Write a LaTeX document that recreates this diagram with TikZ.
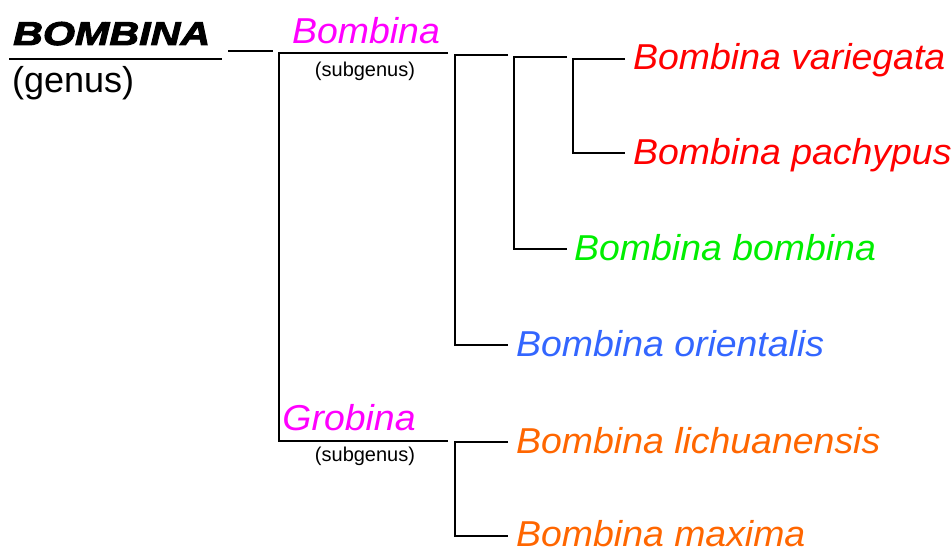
\documentclass[tikz,border=0pt]{standalone}
\usepackage{fontspec}
\setmainfont{Liberation Sans}
\newfontfamily\spfont{Liberation Sans}[FakeStretch=1.04]
\newfontfamily\genusfont{Liberation Sans}[FakeStretch=1.25, BoldItalicFeatures={FakeBold=3}]
\usepackage{tikz}
\usetikzlibrary{positioning}
\usetikzlibrary{calc}

\definecolor{spred}{HTML}{FF0000}
\definecolor{spgreen}{HTML}{00EE00}
\definecolor{spblue}{HTML}{3366FF}
\definecolor{sporange}{HTML}{FF6600}
\definecolor{submagenta}{HTML}{FF00FF}

\begin{document}
\begin{tikzpicture}[
                x=1pt, y=-1pt,
                line width=2.3pt,
                species/.style={font=\spfont\itshape\fontsize{36}{40}\selectfont, anchor=base west, inner sep=0pt},
                subname/.style={font=\spfont\itshape\fontsize{36}{40}\selectfont, anchor=base, inner sep=0pt},
                subnote/.style={font=\fontsize{20}{22}\selectfont, anchor=base, inner sep=0pt}
            ]
            \useasboundingbox (0,0) rectangle (952,551);

            % Genus
            \node[font=\genusfont\bfseries\itshape\fontsize{33}{36}\selectfont, anchor=base west, inner sep=0pt] (genus) at (12,45) {BOMBINA};
            \node[font=\fontsize{36}{40}\selectfont, anchor=base west, inner sep=0pt] (genusnote) at (11,92) {(genus)};
            \coordinate (g1) at (9,59);
            \coordinate (g2) at (222,59);
            \coordinate (c1) at (228,51);
            \coordinate (c2) at (273,51);

            % Subgenera
            \coordinate (sb1) at (278,53);
            \coordinate (sb2) at (448,53);
            \coordinate (sbv) at (279,53);
            \coordinate (sg1) at (279,441);
            \coordinate (sg2) at (448,441);
            \node[subname, text=submagenta] (bombsub) at (366,44) {Bombina};
            \node[subnote] (bombnote) at (365,77) {(subgenus)};
            \node[subname, text=submagenta] (grobsub) at (349,430) {Grobina};
            \node[subnote] (grobnote) at (365,461) {(subgenus)};

            % Clade junctions
            \coordinate (a1) at (455,55);  \coordinate (a1e) at (508,55);
            \coordinate (a2) at (455,345); \coordinate (a2e) at (508,345);
            \coordinate (b1) at (514,57);  \coordinate (b1e) at (567,57);
            \coordinate (b2) at (514,249); \coordinate (b2e) at (567,249);
            \coordinate (d1) at (573,59);  \coordinate (d1e) at (625,59);
            \coordinate (d2) at (573,153); \coordinate (d2e) at (625,153);
            \coordinate (e1) at (455,442); \coordinate (e1e) at (508,442);
            \coordinate (e2) at (455,536); \coordinate (e2e) at (508,536);

            % Species
            \node[species, text=spred] (variegata) at ($(d1e)+(7,11)$) {Bombina variegata};
            \node[species, text=spred] (pachypus) at ($(d2e)+(7,11)$) {Bombina pachypus};
            \node[species, text=spgreen] (bombina) at ($(b2e)+(6,11)$) {Bombina bombina};
            \node[species, text=spblue] (orientalis) at ($(a2e)+(7,11)$) {Bombina orientalis};
            \node[species, text=sporange] (lichuanensis) at ($(e1e)+(7,11)$) {Bombina lichuanensis};
            \node[species, text=sporange] (maxima) at ($(e2e)+(7,10)$) {Bombina maxima};

            % Tree lines
            \draw (g1) -- (g2);
            \draw (c1) -- (c2);
            \draw (sb2) -- (sb1);
            \draw (sbv) -- (sg1) -- (sg2);
            \draw (a1e) -- (a1) -- (a2) -- (a2e);
            \draw (b1e) -- (b1) -- (b2) -- (b2e);
            \draw (d1e) -- (d1) -- (d2) -- (d2e);
            \draw (e1e) -- (e1) -- (e2) -- (e2e);

        \end{tikzpicture}
\end{document}
